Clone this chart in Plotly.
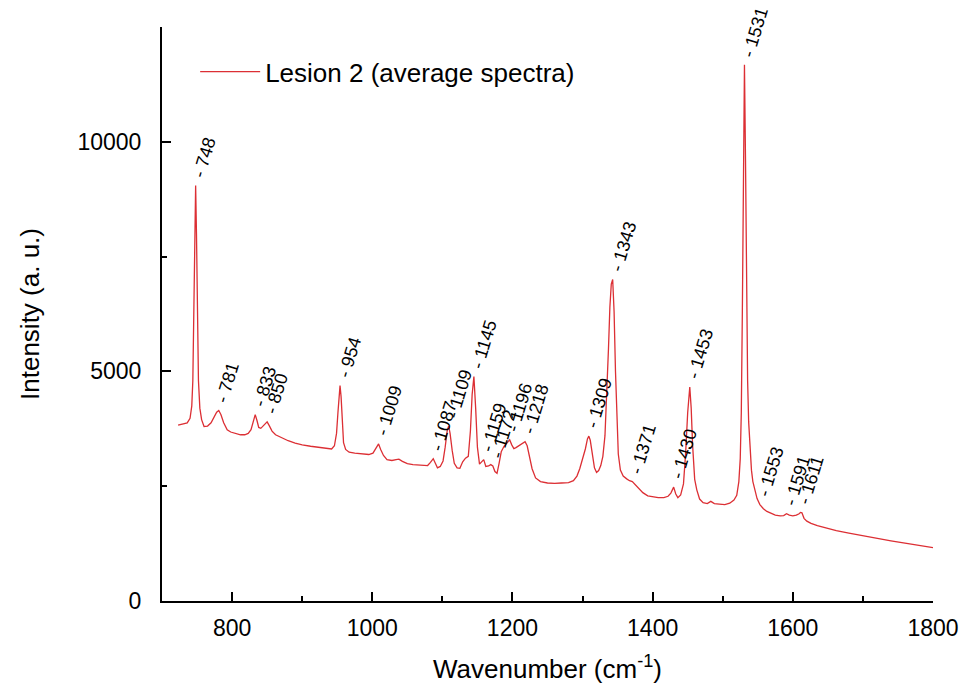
import numpy as np
import plotly.graph_objects as go

# Raman spectrum
wavenumber = [
    723, 730, 736, 740, 742.5, 744, 745.5, 746.8, 748, 749.2, 750.5, 752, 754, 756.5, 760, 765, 770, 774, 778, 781,
    784, 788, 793, 798, 805, 812, 818, 823, 827, 830, 833, 835.5, 838, 841, 845, 848, 850, 853, 857, 862,
    870, 880, 890, 900, 912, 925, 935, 942, 946, 949, 951, 952.5, 954, 955.5, 957, 959, 962, 967, 975, 985,
    995, 1001, 1005, 1009, 1012, 1016, 1021, 1028, 1034, 1038, 1043, 1050, 1058, 1066, 1074, 1079, 1083, 1087, 1090, 1093,
    1097, 1101, 1104, 1107, 1109, 1111, 1114, 1117, 1121, 1125, 1129, 1133, 1137, 1140, 1142.5, 1145, 1147.5, 1150, 1153, 1156,
    1159, 1162, 1166, 1169, 1172, 1175, 1178, 1181, 1184, 1188, 1192, 1196, 1199, 1202, 1205, 1209, 1213, 1218, 1221, 1224,
    1228, 1233, 1240, 1250, 1260, 1270, 1280, 1287, 1292, 1296, 1300, 1304, 1307, 1309, 1311, 1314, 1317, 1320, 1323, 1326,
    1329, 1332, 1335, 1337, 1339, 1341, 1343, 1345, 1347, 1349, 1351, 1354, 1358, 1363, 1367, 1371, 1375, 1380, 1386, 1393,
    1400, 1408, 1416, 1422, 1426, 1430, 1433, 1436, 1440, 1444, 1447, 1450, 1453, 1455, 1457, 1460, 1463, 1467, 1472, 1478,
    1483, 1488, 1495, 1503, 1510, 1516, 1520, 1523, 1525, 1526.5, 1528, 1529.5, 1531, 1532.5, 1534, 1535.5, 1537, 1539, 1541, 1543,
    1546, 1549, 1553, 1558, 1563, 1568, 1575, 1582, 1587, 1591, 1595, 1600, 1605, 1609, 1611, 1613, 1616, 1620, 1626, 1635,
    1648, 1662, 1680, 1700, 1720, 1740, 1760, 1780, 1800,
]
intensity = [
    3830, 3850, 3880, 3980, 4250, 4800, 6200, 8000, 9050, 8000, 6200, 4800, 4200, 3950, 3800, 3810, 3880, 3990, 4110, 4150,
    4060, 3880, 3730, 3680, 3650, 3620, 3620, 3650, 3730, 3900, 4060, 3930, 3780, 3760, 3830, 3880, 3900, 3820, 3700, 3620,
    3560, 3490, 3440, 3400, 3370, 3340, 3320, 3310, 3380, 3650, 4100, 4550, 4690, 4450, 3900, 3450, 3300, 3240, 3220, 3200,
    3190, 3220, 3320, 3420, 3300, 3170, 3080, 3060, 3080, 3090, 3040, 2990, 2970, 2960, 2940, 2950, 3020, 3100, 3000, 2900,
    2930, 3050, 3350, 3720, 3810, 3650, 3280, 3000, 2900, 2890, 3030, 3110, 3150, 3700, 4500, 4890, 4200, 3350, 2980, 3020,
    3080, 2930, 2940, 2970, 2940, 2820, 2780, 3000, 3250, 3370, 3430, 3510, 3400, 3320, 3340, 3380, 3420, 3470, 3380, 3150,
    2880, 2680, 2600, 2570, 2560, 2570, 2580, 2620, 2720, 2880, 3080, 3310, 3530, 3590, 3500, 3170, 2900, 2800, 2840, 2950,
    3150, 3600, 4600, 5500, 6400, 6900, 7000, 6300, 5000, 3900, 3200, 2850, 2720, 2660, 2620, 2600, 2540, 2460, 2360, 2290,
    2270, 2250, 2250, 2280, 2350, 2480, 2330, 2250, 2310, 2550, 3200, 4100, 4660, 4200, 3400, 2650, 2420, 2220, 2140, 2120,
    2170, 2120, 2110, 2100, 2130, 2200, 2300, 2600, 3100, 4100, 6300, 9400, 11680, 9600, 6800, 4800, 3900, 3300, 2850, 2600,
    2380, 2230, 2100, 2010, 1950, 1910, 1870, 1855, 1860, 1900, 1870, 1855, 1870, 1900, 1930, 1920, 1800, 1740, 1690, 1640,
    1580, 1530, 1480, 1420, 1360, 1310, 1260, 1210, 1160,
]

peak_labels = [748, 781, 833, 850, 954, 1009, 1087, 1109, 1145, 1159, 1172, 1196, 1218,
               1309, 1343, 1371, 1430, 1453, 1531, 1553, 1591, 1611]

x_ticks = [800, 1000, 1200, 1400, 1600, 1800]
y_ticks = [0, 5000, 10000]
y_tick_text = ["0", "5000", "10000"]

line_color = "#dc2f34"
font_family = "Arial, Liberation Sans, sans-serif"

fig = go.Figure()
fig.add_trace(go.Scatter(
    x=wavenumber, y=intensity, mode="lines",
    line=dict(color=line_color, width=1.3),
    name="Lesion 2 (average spectra)",
))

annotations = []
for p in peak_labels:
    yv = float(np.interp(p, wavenumber, intensity))
    annotations.append(dict(
        x=p, y=yv, xref="x", yref="y", text="- " + str(p), showarrow=False,
        textangle=-73, xanchor="left", yanchor="bottom", yshift=3, xshift=-9,
        font=dict(family=font_family, size=18, color="black"),
    ))

fig.update_layout(
    width=964, height=693,
    margin=dict(l=162, r=31, t=27, b=92, autoexpand=False),
    paper_bgcolor="white", plot_bgcolor="white",
    font=dict(family=font_family, color="black"),
    showlegend=True,
    legend=dict(x=0.043, y=0.922, xanchor="left", yanchor="middle",
                bgcolor="rgba(0,0,0,0)", font=dict(size=26), itemwidth=60),
    annotations=annotations,
)
fig.update_xaxes(
    range=[700, 1800], tickvals=x_ticks, showgrid=False, zeroline=False, automargin=False,
    showline=True, linecolor="black", linewidth=2,
    ticks="inside", ticklen=9, tickwidth=2, tickcolor="black",
    minor=dict(dtick=100, tick0=700, ticks="inside", ticklen=5, tickwidth=2, tickcolor="black", showgrid=False),
    tickfont=dict(size=23), ticklabelstandoff=5,
    title=dict(text="Wavenumber (cm<sup>-1</sup>)", font=dict(size=26), standoff=20),
)
fig.update_yaxes(
    range=[0, 12500], tickvals=y_ticks, ticktext=y_tick_text, showgrid=False, zeroline=False, automargin=False,
    showline=True, linecolor="black", linewidth=2,
    ticks="inside", ticklen=9, tickwidth=2, tickcolor="black",
    minor=dict(dtick=2500, tick0=0, ticks="inside", ticklen=5, tickwidth=2, tickcolor="black", showgrid=False),
    tickfont=dict(size=23), ticklabelstandoff=14,
    title=dict(text="Intensity (a. u.)", font=dict(size=26), standoff=30),
)

fig.write_html("out.html")
